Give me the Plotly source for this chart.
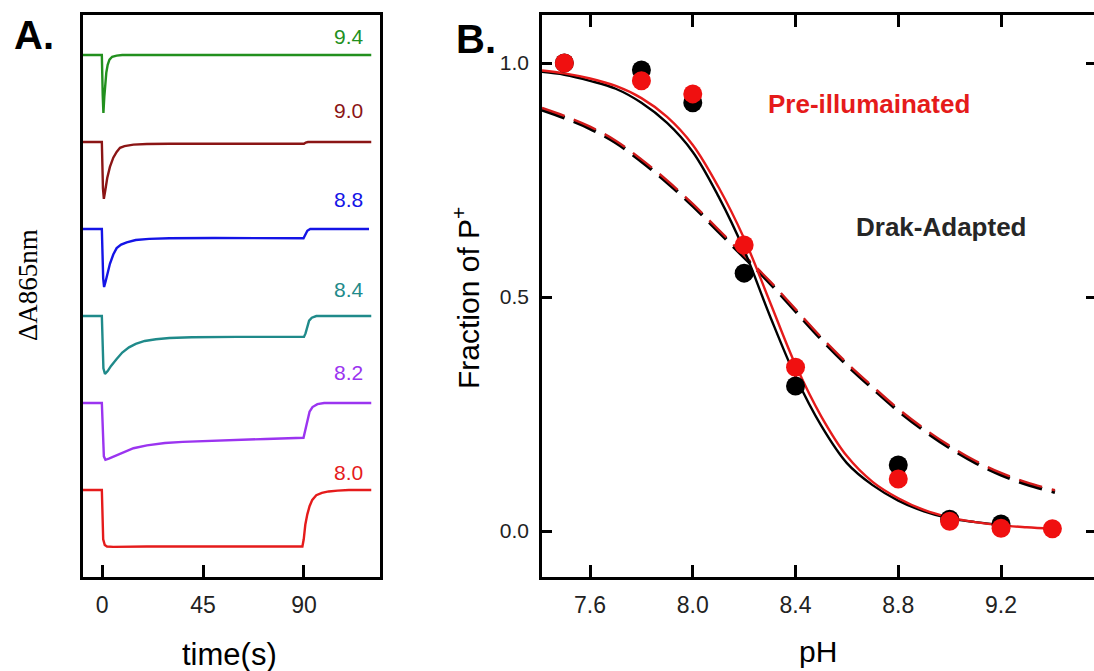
import plotly.graph_objects as go

# ---------------- Panel A data: kinetic traces (normalised ΔA, baseline 0) --------------
ph_labels = ["9.4", "9.0", "8.8", "8.4", "8.2", "8.0"]
trace_colors = ["#22901e", "#8b1515", "#1414e6", "#1f8a8a", "#9b34f0", "#e51b1b"]
stack_offsets = [7.5, 6.0, 4.5, 3.0, 1.5, 0.0]

t_94 = [-8.5, -0.1, 0.3, 0.6, 1.0, 1.4, 1.9, 2.5, 3.3, 4.5, 6.5, 9, 120]
a_94 = [0, 0, -0.7, -1.0, -0.72, -0.48, -0.3, -0.17, -0.08, -0.03, -0.01, 0, 0]

t_90 = [-8.5, -0.1, 0.4, 0.8, 1.5, 2.3, 3.5, 5, 6.5, 8, 10, 14, 20, 30, 60, 90, 90.8, 91.8, 120]
a_90 = [0, 0, -0.8, -0.98, -0.82, -0.62, -0.43, -0.27, -0.17, -0.1, -0.07, -0.045, -0.035,
        -0.03, -0.03, -0.03, -0.01, 0, 0]

t_88 = [-8.5, -0.1, 0.5, 0.9, 1.6, 2.5, 3.5, 5, 6.5, 8.5, 11, 15, 21, 30, 50, 89.8, 90.6,
        91.5, 92.8, 119]
a_88 = [0, 0, -0.85, -1.0, -0.9, -0.75, -0.6, -0.44, -0.33, -0.27, -0.23, -0.19, -0.17,
        -0.16, -0.155, -0.16, -0.1, -0.03, 0, 0]

t_84 = [-8.5, -0.1, 0.6, 1.3, 2.5, 4, 6.5, 9, 12, 15, 19, 24, 30, 40, 60, 90, 90.7,
        91.5, 92.3, 93.5, 95.5, 120]
a_84 = [0, 0, -0.9, -1.0, -0.95, -0.86, -0.74, -0.63, -0.54, -0.48, -0.43, -0.4, -0.38,
        -0.365, -0.36, -0.36, -0.3, -0.16, -0.08, -0.03, 0, 0]

t_82 = [-8.5, -0.1, 0.8, 1.5, 3, 6.5, 10, 14, 20, 28, 36, 45, 58, 73, 89.8, 90.6, 91.5,
        92.5, 93.8, 96, 99, 120]
a_82 = [0, 0, -0.92, -0.98, -0.96, -0.9, -0.84, -0.78, -0.73, -0.69, -0.67, -0.655,
        -0.64, -0.62, -0.6, -0.45, -0.28, -0.15, -0.07, -0.02, 0, 0]

t_80 = [-8.5, -0.1, 0.5, 1.2, 2.2, 5, 20, 50, 89.3, 89.9, 90.6, 91.5, 92.5, 93.7, 95.5,
        98, 101, 105, 110, 120]
a_80 = [0, 0, -0.85, -0.95, -0.975, -0.98, -0.975, -0.975, -0.975, -0.85, -0.6, -0.42,
        -0.28, -0.17, -0.09, -0.05, -0.025, -0.01, 0, 0]

trace_t = [t_94, t_90, t_88, t_84, t_82, t_80]
trace_a = [a_94, a_90, a_88, a_84, a_82, a_80]

# ---------------- Panel B data ----------------
ph_points = [7.5, 7.8, 8.0, 8.2, 8.4, 8.8, 9.0, 9.2]
frac_dark = [1.0, 0.985, 0.915, 0.551, 0.31, 0.141, 0.025, 0.015]
ph_points_red = [7.5, 7.8, 8.0, 8.2, 8.4, 8.8, 9.0, 9.2, 9.4]
frac_pre = [1.0, 0.962, 0.934, 0.611, 0.35, 0.111, 0.021, 0.006, 0.005]

fit_ph = [7.413, 7.5, 7.6, 7.7, 7.8, 7.9, 8.0, 8.1, 8.2, 8.3, 8.4, 8.5, 8.6, 8.7, 8.8,
          8.9, 9.0, 9.1, 9.2]
fit_dark = [0.981, 0.975, 0.962, 0.945, 0.915, 0.872, 0.81, 0.715, 0.6, 0.46, 0.33,
            0.225, 0.145, 0.098, 0.065, 0.042, 0.027, 0.019, 0.013]
fit_ph_red = fit_ph + [9.3, 9.4]
fit_pre = [0.984, 0.978, 0.967, 0.951, 0.925, 0.885, 0.825, 0.735, 0.625, 0.49, 0.355,
           0.245, 0.16, 0.105, 0.07, 0.045, 0.029, 0.019, 0.012, 0.008, 0.005]

dash_ph = [7.413, 7.5, 7.6, 7.7, 7.8, 7.9, 8.0, 8.1, 8.2, 8.3, 8.4, 8.5, 8.6, 8.7, 8.8,
           8.9, 9.0, 9.1, 9.2, 9.3, 9.41]
dash_fit = [0.9, 0.883, 0.86, 0.83, 0.79, 0.745, 0.695, 0.64, 0.585, 0.53, 0.47, 0.41,
            0.355, 0.305, 0.257, 0.215, 0.178, 0.146, 0.12, 0.1, 0.083]

x_ticks_b = [7.6, 8.0, 8.4, 8.8, 9.2]
y_ticks_b = [0.0, 0.5, 1.0]
x_ticks_a = [0, 45, 90]

FONT = "Arial, Liberation Sans, sans-serif"
W, H = 1094, 671

fig = go.Figure()

# Panel A traces
for lab, col, off, tt, aa in zip(ph_labels, trace_colors, stack_offsets, trace_t, trace_a):
    fig.add_trace(go.Scatter(x=tt, y=[v + off for v in aa], mode="lines",
                             line=dict(color=col, width=2.4), xaxis="x", yaxis="y",
                             showlegend=False, hoverinfo="skip"))

label_shift = [19, 32, 30, 27, 31, 18]
annotations = []
for lab, col, off, sh in zip(ph_labels, trace_colors, stack_offsets, label_shift):
    annotations.append(dict(x=110, y=off, xref="x", yref="y", text=lab, showarrow=False,
                            xanchor="center", yanchor="middle",
                            yshift=sh, font=dict(family=FONT, size=21, color=col)))

# Panel B curves
fig.add_trace(go.Scatter(x=dash_ph, y=dash_fit, mode="lines", xaxis="x2", yaxis="y2",
                         line=dict(color="black", width=3.6, dash="24px,10px", shape="spline"),
                         showlegend=False, hoverinfo="skip"))
fig.add_trace(go.Scatter(x=dash_ph, y=[v + 0.004 for v in dash_fit], mode="lines", xaxis="x2", yaxis="y2",
                         line=dict(color="#d01a1a", width=2.4, dash="24px,10px", shape="spline"),
                         showlegend=False, hoverinfo="skip"))
fig.add_trace(go.Scatter(x=fit_ph, y=fit_dark, mode="lines", xaxis="x2", yaxis="y2",
                         line=dict(color="black", width=2.4, shape="spline"),
                         showlegend=False, hoverinfo="skip"))
fig.add_trace(go.Scatter(x=fit_ph_red, y=fit_pre, mode="lines", xaxis="x2", yaxis="y2",
                         line=dict(color="#e51b1b", width=2.4, shape="spline"),
                         showlegend=False, hoverinfo="skip"))
fig.add_trace(go.Scatter(x=ph_points, y=frac_dark, mode="markers", xaxis="x2", yaxis="y2",
                         marker=dict(color="black", size=19),
                         showlegend=False, hoverinfo="skip"))
fig.add_trace(go.Scatter(x=ph_points_red, y=frac_pre, mode="markers", xaxis="x2", yaxis="y2",
                         marker=dict(color="#f01010", size=19),
                         showlegend=False, hoverinfo="skip"))

# invisible trace for the right-side ticks axis
fig.add_trace(go.Scatter(x=[8.0], y=[0.5], mode="markers", xaxis="x2", yaxis="y3",
                         marker=dict(opacity=0), showlegend=False, hoverinfo="skip"))

ydom = [1 - 577 / H, 1 - 15 / H]


def paper_text(px, py, text, size, color="black", family=FONT, angle=0):
    return dict(x=px / W, y=1 - py / H, xref="paper", yref="paper", text=text,
                showarrow=False, xanchor="center", yanchor="middle", textangle=angle,
                font=dict(family=family, size=size, color=color))


annotations += [
    paper_text(34, 35, "<b>A.</b>", 40),
    paper_text(476, 39, "<b>B.</b>", 40),
    paper_text(229, 654, "time(s)", 31),
    paper_text(818, 651, "pH", 30),
    paper_text(28, 285, "ΔA865nm", 27, family="Liberation Serif, Times New Roman, serif", angle=-90),
    paper_text(466, 298, "Fraction of P<sup>+</sup>", 30, angle=-90),
    paper_text(869, 104, "<b>Pre-illumainated</b>", 26, color="#e51b1b"),
    paper_text(941, 227, "<b>Drak-Adapted</b>", 26, color="#262626"),
]

fig.update_layout(
    width=W, height=H, margin=dict(l=0, r=0, t=0, b=0),
    paper_bgcolor="white", plot_bgcolor="white",
    xaxis=dict(domain=[83 / W, 380 / W], range=[-8.5, 123.9], tickvals=x_ticks_a,
               ticks="inside", ticklen=12, tickwidth=2.5, tickcolor="black",
               showline=True, linewidth=2.5, linecolor="black", mirror=True,
               showgrid=False, zeroline=False, anchor="y",
               tickfont=dict(family=FONT, size=23, color="#222"), ticklabelstandoff=6),
    yaxis=dict(domain=ydom, range=[-1.5, 8.19], showticklabels=False, ticks="",
               showline=True, linewidth=2.5, linecolor="black", mirror=True,
               showgrid=False, zeroline=False, anchor="x"),
    xaxis2=dict(domain=[542 / W, 1.0], range=[7.413, 9.562], tickvals=x_ticks_b,
                ticktext=[f"{v:.1f}" for v in x_ticks_b],
                ticks="inside", ticklen=12, tickwidth=2.5, tickcolor="black",
                showline=True, linewidth=2.5, linecolor="black", mirror="ticks",
                showgrid=False, zeroline=False, anchor="y2",
                tickfont=dict(family=FONT, size=23, color="#222"), ticklabelstandoff=6),
    yaxis2=dict(domain=ydom, range=[-0.0983, 1.1026], tickvals=y_ticks_b,
                ticktext=[f"{v:.1f}" for v in y_ticks_b],
                ticks="inside", ticklen=10, tickwidth=2.5, tickcolor="black",
                showline=True, linewidth=2.5, linecolor="black", mirror=False,
                showgrid=False, zeroline=False, anchor="x2",
                tickfont=dict(family=FONT, size=21, color="#222"), ticklabelstandoff=6),
    yaxis3=dict(domain=ydom, range=[-0.0983, 1.1026], tickvals=y_ticks_b, overlaying="y2",
                side="right", anchor="x2", ticks="inside", ticklen=8, tickwidth=2.5,
                tickcolor="black", showline=False, showticklabels=False, showgrid=False,
                zeroline=False),
    annotations=annotations,
)

fig.write_html("out.html")
